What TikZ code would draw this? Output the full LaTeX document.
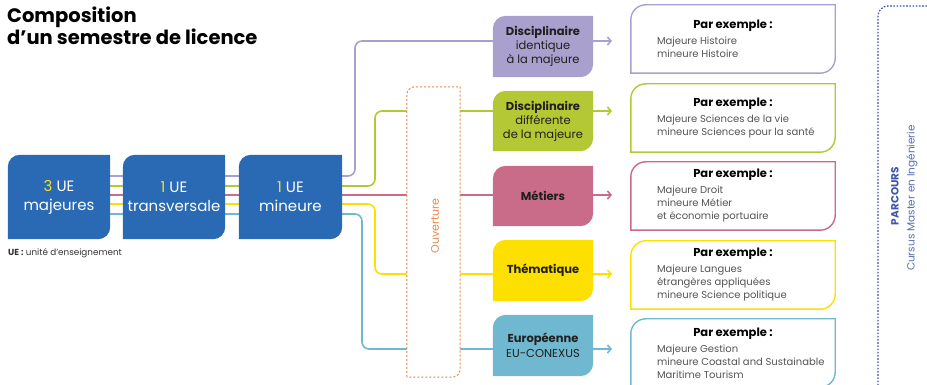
\documentclass[tikz,border=0pt]{standalone}
\usepackage{fontspec}
\setmainfont{Poppins}
\usetikzlibrary{arrows.meta,backgrounds}
\definecolor{ueblue}{RGB}{42,106,180}
\definecolor{uey}{RGB}{245,225,30}
\definecolor{cpurp}{RGB}{169,160,205}
\definecolor{cgreen}{RGB}{179,200,52}
\definecolor{cpink}{RGB}{201,108,137}
\definecolor{cyell}{RGB}{253,223,0}
\definecolor{ccyan}{RGB}{112,184,207}
\definecolor{corange}{RGB}{232,135,74}
\definecolor{pblue}{RGB}{60,85,165}
\definecolor{txtgray}{RGB}{85,85,85}
\pgfdeclarelayer{bg}
\pgfdeclarelayer{shapes}
\pgfsetlayers{bg,shapes,main}
\newcommand\leafshape[3]{\path[#3] (#1.south west) -- ([yshift=-#2]#1.north west) arc[start angle=180,end angle=90,radius=#2] -- (#1.north east) -- ([yshift=#2]#1.south east) arc[start angle=0,end angle=-90,radius=#2] -- cycle;}
\tikzset{
  ue/.style={minimum width=102pt, minimum height=84pt, inner sep=0pt, text=white, align=center, font=\fontsize{15}{19}\selectfont},
  cat/.style={minimum width=100pt, minimum height=60pt, inner sep=0pt, align=center, font=\fontsize{11.5}{14}\selectfont, text=black!88},
  exbox/.style={minimum width=204pt, minimum height=68pt, inner sep=0pt},
  extext/.style={anchor=west, align=left, inner sep=0pt, font=\fontsize{10}{13}\selectfont, text=txtgray},
  link/.style={line width=1.6pt, rounded corners=7pt},
  arr/.style={line width=1.6pt, -{Straight Barb[length=3.5pt,width=8pt]}},
  vtext/.style={rotate=90, inner sep=0pt}
}
\newcommand\extitle{\makebox[152pt]{\fontsize{11.5}{13}\selectfont\bfseries\color{black}Par exemple :}\\[3pt]}
\begin{document}
\begin{tikzpicture}[x=1pt,y=1pt]
\useasboundingbox (0,0) rectangle (927,385);
\clip (0,0) rectangle (927,385);
% title
\node[anchor=north west, align=left, inner sep=0pt, font=\fontsize{19.5}{20.5}\selectfont\bfseries] (title) at (7,378) {Composition\\d'un semestre de licence};
% UE boxes
\node[ue] (ue1) at (59,188) {{\color{uey}3} UE\\majeures};
\node[ue] (ue2) at (174,188) {{\color{uey}1} UE\\transversale};
\node[ue, minimum width=103pt] (ue3) at (290.5,188) {{\color{uey}1} UE\\mineure};
\node[anchor=west, inner sep=0pt, font=\fontsize{8.8}{10}\selectfont, text=black!80] (leg) at (8,132) {\textbf{UE :} unité d'enseignement};
% category boxes
\node[cat, minimum height=61pt] (dP) at (543,338.5) {\textbf{Disciplinaire}\\identique\\à la majeure};
\node[cat] (dG) at (543,264) {\textbf{Disciplinaire}\\différente\\de la majeure};
\node[cat] (dM) at (543,189) {\textbf{Métiers}};
\node[cat, minimum height=61pt] (dT) at (543,114.5) {\textbf{Thématique}};
\node[cat, minimum height=61pt, font=\fontsize{11.5}{15}\selectfont] (dE) at (543,39.5) {\textbf{Européenne}\\EU-CONEXUS};
% ouverture
\node[minimum width=53pt, minimum height=290pt, inner sep=0pt] (ouv) at (433.5,153) {};
\node[vtext, text=corange, font=\fontsize{11}{13}\selectfont] (ouvt) at (435,159) {Ouverture};
% example boxes
\node[exbox] (exP) at (733,346) {};
\node[exbox] (exG) at (733,267) {};
\node[exbox] (exM) at (733,189) {};
\node[exbox] (exT) at (733,110) {};
\node[exbox] (exE) at (733,32) {};
\node[extext] (exPt) at ([xshift=26pt]exP.west) {\extitle Majeure Histoire\\mineure Histoire};
\node[extext] (exGt) at ([xshift=26pt]exG.west) {\extitle Majeure Sciences de la vie\\mineure Sciences pour la santé};
\node[extext] (exMt) at ([xshift=26pt]exM.west) {\extitle Majeure Droit\\mineure Métier\\et économie portuaire};
\node[extext] (exTt) at ([xshift=26pt]exT.west) {\extitle Majeure Langues\\étrangères appliquées\\mineure Science politique};
\node[extext] (exEt) at ([xshift=26pt]exE.west) {\extitle Majeure Gestion\\mineure Coastal and Sustainable\\Maritime Tourism};
% parcours
\node[vtext, text=pblue, font=\fontsize{10.5}{12}\selectfont\bfseries] (parc) at (895,189) {PARCOURS};
\node[vtext, text=pblue!85, font=\fontsize{10.5}{13}\selectfont] (cursus) at (912,187) {Cursus Master en Ingénierie};
\coordinate (pc) at (940,379);
\coordinate (pb) at (878,-10);
\draw[pblue, line width=1.3pt, dash pattern=on 1.6pt off 1.6pt] (pb) -- (878,369) arc[start angle=180,end angle=90,radius=10pt] -- (pc);
% levels
\coordinate (Lp) at (0,209);
\coordinate (Lg) at (0,199);
\coordinate (Lm) at (0,190);
\coordinate (Lt) at (0,181);
\coordinate (Le) at (0,171);
\coordinate (aP) at (612,344);
\coordinate (aG) at (612,274);
\coordinate (aM) at (612,190);
\coordinate (aT) at (612,111);
\coordinate (aE) at (612,36);
\begin{pgfonlayer}{bg}
  \foreach \a/\b in {ue1/ue2,ue2/ue3}{
    \draw[link,cpurp] (\a.east |- Lp) -- (\b.west |- Lp);
    \draw[link,cgreen] (\a.east |- Lg) -- (\b.west |- Lg);
    \draw[link,cpink] (\a.east |- Lm) -- (\b.west |- Lm);
    \draw[link,cyell] (\a.east |- Lt) -- (\b.west |- Lt);
    \draw[link,ccyan] (\a.east |- Le) -- (\b.west |- Le);
  }
  \draw[link,cpurp] (ue3.east |- Lp) -- (355,209) -- (355,344) -- (dP.west |- aP);
  \draw[link,cgreen] (ue3.east |- Lg) -- (375,199) -- (375,274) -- (dG.west |- aG);
  \draw[link,cpink] (ue3.east |- Lm) -- (dM.west |- aM);
  \draw[link,cyell] (ue3.east |- Lt) -- (375,181) -- (375,111) -- (dT.west |- aT);
  \draw[link,ccyan] (ue3.east |- Le) -- (362,171) -- (362,36) -- (dE.west |- aE);
  \draw[arr,cpurp] (dP.east |- aP) -- (aP);
  \draw[arr,cgreen] (dG.east |- aG) -- (aG);
  \draw[arr,cpink] (dM.east |- aM) -- (aM);
  \draw[arr,cyell] (dT.east |- aT) -- (aT);
  \draw[arr,ccyan] (dE.east |- aE) -- (aE);
\end{pgfonlayer}
\begin{pgfonlayer}{shapes}
  \leafshape{ue1}{12pt}{fill=ueblue}
  \leafshape{ue2}{12pt}{fill=ueblue}
  \leafshape{ue3}{12pt}{fill=ueblue}
  \leafshape{dP}{13pt}{fill=cpurp}
  \leafshape{dG}{13pt}{fill=cgreen}
  \leafshape{dM}{13pt}{fill=cpink}
  \leafshape{dT}{13pt}{fill=cyell}
  \leafshape{dE}{13pt}{fill=ccyan}
  \leafshape{ouv}{8pt}{fill=white, draw=corange, line width=1pt, dash pattern=on 2pt off 2pt}
  \leafshape{exP}{15pt}{fill=white, draw=cpurp, line width=1.4pt}
  \leafshape{exG}{15pt}{fill=white, draw=cgreen, line width=1.4pt}
  \leafshape{exM}{15pt}{fill=white, draw=cpink, line width=1.4pt}
  \leafshape{exT}{15pt}{fill=white, draw=cyell, line width=1.4pt}
  \leafshape{exE}{15pt}{fill=white, draw=ccyan, line width=1.4pt}
\end{pgfonlayer}
\end{tikzpicture}
\end{document}
